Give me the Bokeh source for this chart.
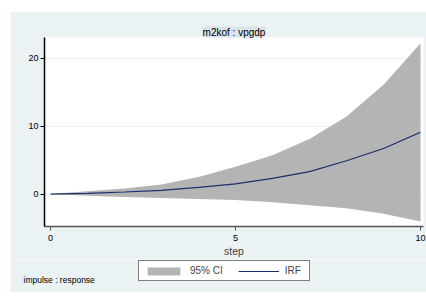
from bokeh.plotting import figure
from bokeh.models import Range1d, Legend, LegendItem, Title, Label, FixedTicker
from bokeh.layouts import column
from bokeh.embed import file_html
from bokeh.resources import INLINE

steps = [0, 1, 2, 3, 4, 5, 6, 7, 8, 9, 10]
irf = [0, 0.1, 0.3, 0.55, 0.97, 1.5, 2.3, 3.3, 4.9, 6.7, 9.1]
upper = [0, 0.4, 0.8, 1.4, 2.5, 4.0, 5.7, 8.1, 11.4, 16.1, 22.2]
lower = [0, -0.24, -0.43, -0.58, -0.75, -0.88, -1.2, -1.64, -2.1, -2.9, -4.06]
x_ticks = [0, 5, 10]
y_ticks = [0, 10, 20]
panel_title = "m2kof : vpgdp"
note = "impulse : response"

FONT = "Liberation Sans"
BG = "#EAF2F3"
CI_COLOR = "#B4B4B4"
IRF_COLOR = "#1a2f6b"

p = figure(width=416, height=248, margin=(11, 0, 0, 10),
           output_backend="svg", toolbar_location=None,
           x_range=Range1d(-0.162, 10.08), y_range=Range1d(-4.78, 23.04),
           min_border_left=34, min_border_right=3, min_border_top=26,
           min_border_bottom=30)
p.frame_align = False
p.background_fill_color = "white"
p.border_fill_color = BG
p.outline_line_color = None

t = Title(text=panel_title, align="center", text_font=FONT, text_font_size="10px",
          text_font_style="normal", text_color="black",
          background_fill_color="#D8E4EA", standoff=0)
p.add_layout(t, "above")
p.title.visible = False

p.varea(x=steps, y1=lower, y2=upper, fill_color=CI_COLOR, fill_alpha=1.0)
p.line(x=steps, y=irf, line_color=IRF_COLOR, line_width=1.2)

p.xgrid.visible = False
p.ygrid.grid_line_color = BG
p.ygrid.grid_line_width = 1
p.ygrid.ticker = FixedTicker(ticks=y_ticks)

p.yaxis.ticker = FixedTicker(ticks=y_ticks)
p.xaxis.ticker = FixedTicker(ticks=x_ticks)
for ax in (p.xaxis[0], p.yaxis[0]):
    ax.major_label_text_font = FONT
    ax.major_label_text_font_size = "9px"
    ax.major_label_text_color = "black"
    ax.major_tick_out = 4
    ax.major_tick_in = 0
    ax.minor_tick_out = 0
    ax.minor_tick_in = 0
    ax.major_label_standoff = 2
p.xaxis.major_label_standoff = 4
p.yaxis.axis_line_color = "black"
p.yaxis.major_tick_line_color = "black"
p.xaxis.axis_line_color = "#555555"
p.xaxis.major_tick_line_color = "#555555"
p.xaxis.axis_line_width = 1.5
p.yaxis.axis_line_width = 1.5
p.xaxis.axis_label = "step"
p.xaxis.axis_label_text_font = FONT
p.xaxis.axis_label_text_font_size = "10.5px"
p.xaxis.axis_label_text_font_style = "normal"
p.xaxis.axis_label_standoff = 1

# legend / note strip below the panel
p2 = figure(width=416, height=33, margin=(0, 0, 0, 10),
            output_backend="svg", toolbar_location=None,
            x_range=Range1d(100, 101), y_range=Range1d(100, 101),
            x_axis_type=None, y_axis_type=None,
            min_border_left=0, min_border_right=0, min_border_top=0,
            min_border_bottom=0)
p2.frame_align = False
p2.background_fill_color = BG
p2.border_fill_color = BG
p2.outline_line_color = None
p2.grid.visible = False
ci2 = p2.varea(x=steps, y1=lower, y2=upper, fill_color=CI_COLOR, fill_alpha=1.0)
ln2 = p2.line(x=steps, y=irf, line_color=IRF_COLOR, line_width=1.2)

legend = Legend(items=[LegendItem(label="95% CI", renderers=[ci2]),
                       LegendItem(label="IRF", renderers=[ln2])],
                orientation="horizontal", location=(128, 11),
                border_line_color="black", border_line_width=1,
                background_fill_color="white", background_fill_alpha=1,
                label_text_font=FONT, label_text_font_size="10px",
                glyph_width=41, glyph_height=10, label_height=10,
                spacing=15, padding=4, margin=0, label_standoff=6)
p2.add_layout(legend)

lab = Label(x=13, y=13, x_units="screen", y_units="screen", text=note,
            text_font=FONT, text_font_size="8.5px", text_color="black",
            text_baseline="middle")
p2.add_layout(lab)

layout = column(p, p2, spacing=0)
open("out.html", "w").write(file_html(layout, INLINE))
